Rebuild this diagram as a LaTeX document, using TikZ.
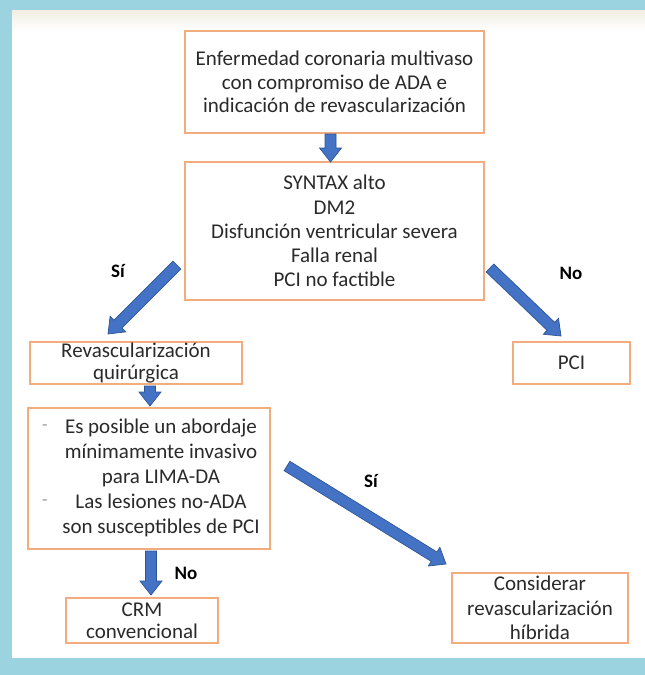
\documentclass[tikz,border=0pt]{standalone}
\usepackage{fontspec}
\setmainfont{Carlito}
\usetikzlibrary{calc}
\definecolor{frameblue}{HTML}{9BD3E0}
\definecolor{boxorange}{HTML}{F2AC7E}
\definecolor{arrowfill}{HTML}{4472C4}
\definecolor{arrowline}{HTML}{2F5597}
\definecolor{topbeige}{HTML}{F1EFE3}
\definecolor{bulletgray}{HTML}{9A9A9A}
\definecolor{textgray}{HTML}{2A2A2A}
\newcommand\blockarrow[2]{%
  \coordinate (bah) at ($(#2)!14pt!(#1)$);
  \filldraw[blockarrow] ($(#1)!5.5pt!90:(#2)$) -- ($(bah)!5.5pt!-90:(#1)$) -- ($(bah)!11pt!-90:(#1)$) -- (#2) -- ($(bah)!11pt!90:(#1)$) -- ($(bah)!5.5pt!90:(#1)$) -- ($(#1)!5.5pt!-90:(#2)$) -- cycle;}
\begin{document}
\begin{tikzpicture}[x=1pt,y=-1pt,
  box/.style={draw=boxorange, line width=1.8pt, fill=white, align=center, inner sep=0pt, text=textgray, font=\fontsize{21}{23.5}\selectfont},
  plain/.style={align=center, inner sep=0pt, text=textgray, font=\fontsize{21}{25}\selectfont},
  blockarrow/.style={fill=arrowfill, draw=arrowline, line width=0.7pt, line join=miter},
  lbl/.style={inner sep=0pt, font=\fontsize{19}{22}\selectfont\bfseries},
  bullet/.style={inner sep=0pt, text=bulletgray, font=\fontsize{18}{20}\selectfont}]
\useasboundingbox (0,0) rectangle (645,675);
\fill[frameblue] (0,0) rectangle (645,675);
\fill[white] (12,10) rectangle (645,658);
\shade[top color=topbeige, bottom color=white] (12,10) rectangle (645,32);

\node[box, minimum width=299pt, minimum height=102pt] (b1) at (334.5,82)
  {Enfermedad coronaria multivaso\\con compromiso de ADA e\\indicación de revascularización};
\node[box, minimum width=299pt, minimum height=138pt, font=\fontsize{21}{24.2}\selectfont] (b2) at (334.5,231)
  {SYNTAX alto\\DM2\\Disfunción ventricular severa\\Falla renal\\PCI no factible};
\node[box, minimum width=212pt, minimum height=42pt, font=\fontsize{21}{22}\selectfont] (b3) at (136,363)
  {Revascularización\\quirúrgica};
\node[box, minimum width=117pt, minimum height=42pt] (b4) at (571.5,363) {PCI};
\node[box, minimum width=242pt, minimum height=141pt] (b5) at (149,478.5) {};
\node[plain] (t5) at (161,477.5)
  {Es posible un abordaje\\mínimamente invasivo\\para LIMA-DA\\Las lesiones no-ADA\\son susceptibles de PCI};
\node[bullet] (d1) at (45,428) {-};
\node[bullet] (d2) at (45,503) {-};
\node[box, minimum width=152pt, minimum height=45pt, font=\fontsize{21}{22}\selectfont] (b6) at (142,620.5)
  {CRM\\convencional};
\node[box, minimum width=176pt, minimum height=70pt, font=\fontsize{21}{24.5}\selectfont] (b7) at (540,608)
  {Considerar\\revascularización\\híbrida};

\node[lbl] (l1) at (118,271) {Sí};
\node[lbl] (l2) at (571,273) {No};
\node[lbl] (l3) at (371,481) {Sí};
\node[lbl] (l4) at (186,573) {No};

\coordinate (a1s) at (330.5,134); \coordinate (a1e) at (330.5,162);
\coordinate (a2s) at (177,265);   \coordinate (a2e) at (108,334);
\coordinate (a3s) at (490,268);   \coordinate (a3e) at (561,336);
\coordinate (a4s) at (150,386);   \coordinate (a4e) at (150,406);
\coordinate (a5s) at (151,551);   \coordinate (a5e) at (151,595);
\coordinate (a6s) at (287,466);   \coordinate (a6e) at (446,564);
\blockarrow{a1s}{a1e}
\blockarrow{a2s}{a2e}
\blockarrow{a3s}{a3e}
\blockarrow{a4s}{a4e}
\blockarrow{a5s}{a5e}
\blockarrow{a6s}{a6e}
\end{tikzpicture}
\end{document}
